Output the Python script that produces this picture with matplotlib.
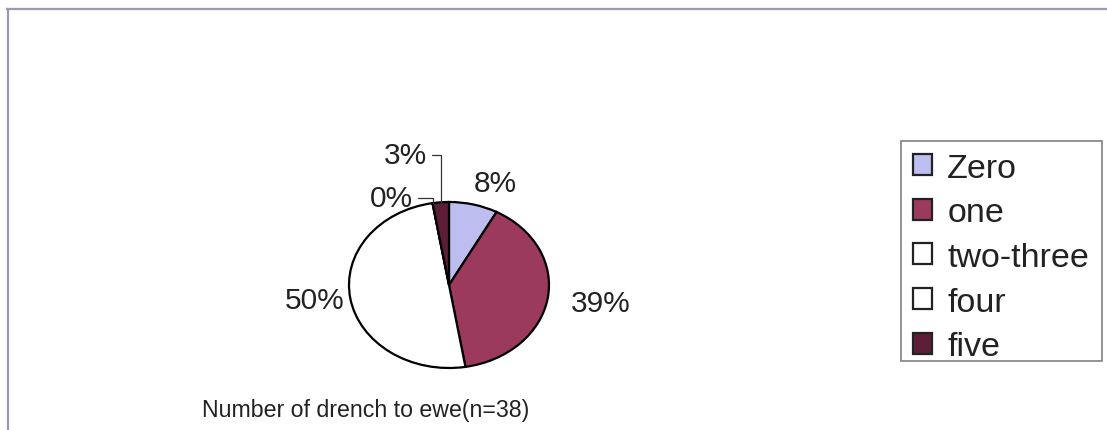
import numpy as np
import matplotlib
matplotlib.use("Agg")
import matplotlib.pyplot as plt
from matplotlib.lines import Line2D
from matplotlib.patches import Rectangle

plt.rcParams['font.family'] = ['Liberation Sans', 'DejaVu Sans']

# Drenching frequency for ewes (n = 38)
categories = ["Zero", "one", "two-three", "four", "five"]
counts = [3, 15, 19, 0, 1]
pct_labels = ["8%", "39%", "50%", "0%", "3%"]
colors = ["#BDBDF0", "#9C3A5E", "#FFFFFF", "#FFFFFF", "#5E1D36"]
title = "Number of drench to ewe(n=38)"

W, H = 1107, 431
fig = plt.figure(figsize=(W / 100, H / 100), dpi=100)
fig.patch.set_facecolor("white")

# chart-area frame (left and top edges)
frame_col = "#9A9AB2"
fig.add_artist(Line2D([8 / W, 8 / W], [0, 1 - 10 / H], transform=fig.transFigure,
                      color=frame_col, lw=1.6))
fig.add_artist(Line2D([7 / W, 1], [1 - 10 / H, 1 - 10 / H], transform=fig.transFigure,
                      color=frame_col, lw=1.6))

# pie axes: an ellipse 200 px wide, 166 px tall centred at (449, 286)
cx, cy, rx, ry = 449, 286, 100, 83
ax = fig.add_axes([(cx - rx) / W, (H - cy - ry) / H, 2 * rx / W, 2 * ry / H])
wedges, _ = ax.pie(counts, colors=colors, startangle=90, counterclock=False,
                   radius=1.0,
                   wedgeprops=dict(edgecolor="black", linewidth=1.6))
ax.set_aspect("auto")
ax.set_xlim(-1, 1)
ax.set_ylim(-1, 1)
ax.axis("off")

# label placement: offset (pixels) from the wedge's mid-angle point on the rim
label_style = [
    dict(off=(0, 8), ha="left", va="bottom", leader=False),
    dict(off=(23, -4), ha="left", va="center", leader=False),
    dict(off=(-6, -1), ha="right", va="center", leader=False),
    dict(off=(-20, 5), ha="right", va="center", leader=True),
    dict(off=(-14, 47), ha="right", va="center", leader=True),
]
for w, lab, st in zip(wedges, pct_labels, label_style):
    mid = np.deg2rad((w.theta1 + w.theta2) / 2)
    xy = (np.cos(mid), np.sin(mid))
    kw = {}
    if st["leader"]:
        kw["arrowprops"] = dict(arrowstyle="-", color="#333333", lw=0.9,
                                shrinkA=2, shrinkB=0,
                                connectionstyle="angle,angleA=0,angleB=90,rad=0")
    ax.annotate(lab, xy=xy, xytext=st["off"], textcoords="offset pixels",
                ha=st["ha"], va=st["va"], fontsize=21.5, color="#222222",
                annotation_clip=False, **kw)

fig.text(366 / W, 1 - 411 / H, title, ha="center", va="center",
         fontsize=16.7, color="#222222")

# legend box
fig.add_artist(Rectangle((901 / W, 1 - 362 / H), 201 / W, 220 / H,
                         transform=fig.transFigure, facecolor="white",
                         edgecolor="#808080", linewidth=1.2))
leg = fig.legend(wedges, categories, loc="upper left",
                 bbox_to_anchor=(913 / W, 1 - 153.7 / H),
                 fontsize=24.5, frameon=False,
                 handlelength=0.57, handleheight=0.57, handletextpad=0.44,
                 labelspacing=0.40, borderpad=0, borderaxespad=0)
for t in leg.get_texts():
    t.set_color("#222222")
for h in leg.legend_handles:
    h.set_edgecolor("#222222")
    h.set_linewidth(1.6)

fig.savefig("out.png", dpi=100, facecolor="white")
